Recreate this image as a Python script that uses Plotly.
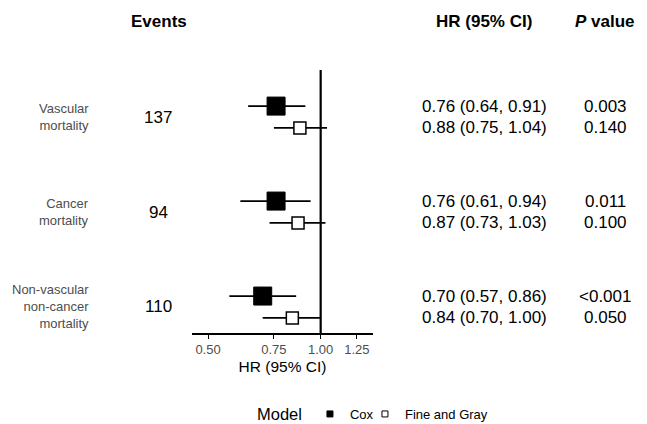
import math
import plotly.graph_objects as go

# ---- data ----
outcomes = ["Vascular<br>mortality", "Cancer<br>mortality", "Non-vascular<br>non-cancer<br>mortality"]
events = [137, 94, 110]
cox_hr = [0.76, 0.76, 0.70]
cox_lo = [0.64, 0.61, 0.57]
cox_hi = [0.91, 0.94, 0.86]
fg_hr = [0.88, 0.87, 0.84]
fg_lo = [0.75, 0.73, 0.70]
fg_hi = [1.04, 1.03, 1.00]
cox_p = ["0.003", "0.011", "<0.001"]
fg_p = ["0.140", "0.100", "0.050"]
models = ["Cox", "Fine and Gray"]
x_ticks = [0.50, 0.75, 1.00, 1.25]
x_ticktext = ["0.50", "0.75", "1.00", "1.25"]

FONT = "Liberation Sans, Arial, Helvetica, sans-serif"
GREY = "#4d4d4d"
group_y = [1, 2, 3]
off = 0.115
cox_y = [g - off for g in group_y]
fg_y = [g + off for g in group_y]
y_top, y_bot = 0.505, 3.274

fig = go.Figure()


def seg(lo, hi, ys):
    xs, yy = [], []
    for a, b, y in zip(lo, hi, ys):
        xs += [a, b, None]
        yy += [y, y, None]
    return xs, yy


# reference line at HR = 1
fig.add_trace(go.Scatter(x=[1, 1], y=[y_top, y_bot], mode="lines",
                         line=dict(color="black", width=2.2), showlegend=False, hoverinfo="skip"))

for lo, hi, ys in [(cox_lo, cox_hi, cox_y), (fg_lo, fg_hi, fg_y)]:
    xs, yy = seg(lo, hi, ys)
    fig.add_trace(go.Scatter(x=xs, y=yy, mode="lines", line=dict(color="black", width=1.8),
                             showlegend=False, hoverinfo="skip"))

fig.add_trace(go.Scatter(x=cox_hr, y=cox_y, mode="markers", showlegend=False,
                         marker=dict(symbol="square", size=18, color="black",
                                     line=dict(color="black", width=1))))
fig.add_trace(go.Scatter(x=fg_hr, y=fg_y, mode="markers", showlegend=False,
                         marker=dict(symbol="square", size=12, color="white",
                                     line=dict(color="black", width=1.5))))

# legend entries
fig.add_trace(go.Scatter(x=[None], y=[None], mode="markers", name=models[0], legendwidth=10,
                         marker=dict(symbol="square", size=6, color="black",
                                     line=dict(color="black", width=1))))
fig.add_trace(go.Scatter(x=[None], y=[None], mode="markers", name=models[1],
                         marker=dict(symbol="square", size=6, color="white",
                                     line=dict(color="black", width=1))))

L, R, T, B = 192, 274, 70, 91
W, H = 647, 424
pw = W - L - R
ph = H - T - B


def px2paper(px):
    return (px - L) / pw


def py2paper(py):
    return (H - B - py) / ph


ann = []
for i in range(3):
    ann.append(dict(x=px2paper(91), y=group_y[i], xref="paper", yref="y", text=outcomes[i],
                    xanchor="right", yanchor="middle", align="right", showarrow=False,
                    font=dict(family=FONT, size=13, color=GREY)))
    ann.append(dict(x=px2paper(158), y=group_y[i], xref="paper", yref="y", text=str(events[i]),
                    xanchor="center", yanchor="middle", showarrow=False,
                    font=dict(family=FONT, size=17, color="black")))
    for ys, hr, lo, hi, p in [(cox_y[i], cox_hr[i], cox_lo[i], cox_hi[i], cox_p[i]),
                              (fg_y[i], fg_hr[i], fg_lo[i], fg_hi[i], fg_p[i])]:
        ann.append(dict(x=px2paper(484), y=ys, xref="paper", yref="y",
                        text=f"{hr:.2f} ({lo:.2f}, {hi:.2f})",
                        xanchor="center", yanchor="middle", showarrow=False,
                        font=dict(family=FONT, size=17, color="black")))
        ann.append(dict(x=px2paper(605), y=ys, xref="paper", yref="y", text=p,
                        xanchor="center", yanchor="middle", showarrow=False,
                        font=dict(family=FONT, size=17, color="black")))

for txt, xp in [("<b>Events</b>", 159), ("<b>HR (95% CI)</b>", 484), ("<b><i>P</i> value</b>", 605)]:
    ann.append(dict(x=px2paper(xp), y=py2paper(21.5), xref="paper", yref="paper", text=txt,
                    xanchor="center", yanchor="middle", showarrow=False,
                    font=dict(family=FONT, size=17, color="black")))

fig.update_layout(
    width=W, height=H,
    margin=dict(l=L, r=R, t=T, b=B, pad=0, autoexpand=False),
    paper_bgcolor="white", plot_bgcolor="white",
    font=dict(family=FONT, color="black"),
    annotations=ann,
    showlegend=True,
    legend=dict(orientation="h", x=px2paper(493), y=py2paper(415), xanchor="right", yanchor="middle",
                title=dict(text="Model", font=dict(family=FONT, size=16.5, color="black")),
                font=dict(family=FONT, size=13, color="black"),
                itemwidth=30, tracegroupgap=0, bgcolor="rgba(0,0,0,0)"),
    xaxis=dict(type="log", range=[math.log10(0.453), math.log10(1.38)],
               tickvals=x_ticks, ticktext=x_ticktext, ticks="outside", ticklen=4,
               tickcolor="black", tickwidth=1.2, showline=True, linecolor="black", linewidth=1.6,
               showgrid=False, zeroline=False,
               tickfont=dict(family=FONT, size=13, color=GREY),
               title=dict(text="HR (95% CI)", font=dict(family=FONT, size=15.5, color="black"),
                          standoff=5)),
    yaxis=dict(range=[y_bot, y_top], visible=False, showgrid=False, zeroline=False),
)

fig.write_html("out.html", config={"displayModeBar": False},
               post_script="document.body.style.margin='0px';")
